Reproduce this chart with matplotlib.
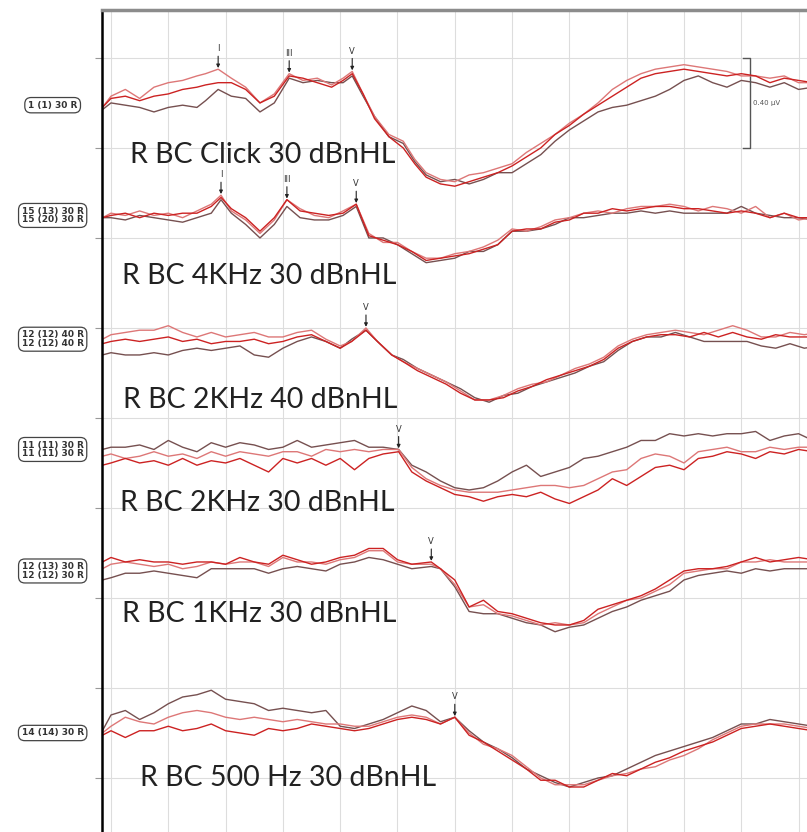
import matplotlib
matplotlib.use("Agg")
import matplotlib.pyplot as plt
import matplotlib.transforms as mtransforms
import numpy as np

# one run per stimulus, top to bottom
conditions = ["R BC Click 30 dBnHL", "R BC 4KHz 30 dBnHL", "R BC 2KHz 40 dBnHL",
              "R BC 2KHz 30 dBnHL", "R BC 1KHz 30 dBnHL", "R BC 500 Hz 30 dBnHL"]
channel_tags = ["1 (1) 30 R", "15 (13) 30 R\n15 (20) 30 R", "12 (12) 40 R\n12 (12) 40 R",
                "11 (11) 30 R\n11 (11) 30 R", "12 (13) 30 R\n12 (12) 30 R", "14 (14) 30 R"]
baseline_uv = [2.99, 2.50, 1.95, 1.46, 0.92, 0.20]
scale_uv = 0.40

# latency (ms) and amplitude (uV) of the three sweeps per run
t_click = [-0.15, 0, 0.25, 0.5, 0.75, 1.0, 1.25, 1.5, 1.65, 1.87, 2.1, 2.35, 2.6, 2.85, 3.11, 3.35,
           3.6, 3.85, 4.05, 4.21, 4.4, 4.6, 4.85, 5.1, 5.3, 5.5, 5.75, 6.0, 6.25, 6.5, 6.75, 7.0,
           7.25, 7.5, 7.75, 8.0, 8.25, 8.5, 8.75, 9.0, 9.25, 9.5, 9.75, 10.0, 10.25, 10.5, 10.75,
           11.0, 11.25, 11.5, 11.75, 12.0, 12.25]
click_a = [-0.01, 0.04, 0.07, 0.03, 0.08, 0.10, 0.11, 0.13, 0.14, 0.16, 0.12, 0.08, 0.01, 0.05,
           0.14, 0.11, 0.12, 0.09, 0.12, 0.15, 0.05, -0.05, -0.13, -0.16, -0.24, -0.30, -0.33,
           -0.34, -0.31, -0.30, -0.28, -0.26, -0.21, -0.17, -0.13, -0.08, -0.04, 0.01, 0.07, 0.11,
           0.14, 0.16, 0.17, 0.18, 0.17, 0.16, 0.15, 0.13, 0.13, 0.12, 0.13, 0.10, 0.10]
click_b = [-0.01, 0.03, 0.04, 0.02, 0.04, 0.05, 0.07, 0.08, 0.09, 0.10, 0.10, 0.07, 0.01, 0.04,
           0.13, 0.12, 0.10, 0.08, 0.11, 0.14, 0.05, -0.06, -0.14, -0.19, -0.26, -0.32, -0.35,
           -0.36, -0.34, -0.32, -0.30, -0.27, -0.23, -0.19, -0.13, -0.09, -0.04, 0.00, 0.04, 0.08,
           0.12, 0.14, 0.15, 0.16, 0.15, 0.14, 0.13, 0.14, 0.13, 0.10, 0.12, 0.11, 0.10]
click_c = [-0.02, 0.01, 0.00, -0.01, -0.03, -0.01, 0.00, -0.01, 0.02, 0.07, 0.04, 0.03, -0.03,
           0.01, 0.12, 0.10, 0.11, 0.10, 0.10, 0.13, 0.04, -0.05, -0.14, -0.17, -0.25, -0.31,
           -0.34, -0.33, -0.35, -0.33, -0.30, -0.30, -0.26, -0.22, -0.16, -0.11, -0.07, -0.03,
           -0.01, 0.00, 0.02, 0.04, 0.07, 0.11, 0.13, 0.10, 0.08, 0.11, 0.10, 0.08, 0.10, 0.07, 0.08]

t_4k = [-0.15, 0, 0.25, 0.5, 0.75, 1.0, 1.25, 1.5, 1.75, 1.92, 2.1, 2.35, 2.6, 2.85, 3.07, 3.3,
        3.55, 3.8, 4.05, 4.28, 4.5, 4.75, 5.0, 5.25, 5.5, 5.75, 6.0, 6.25, 6.5, 6.75, 7.0, 7.25,
        7.5, 7.75, 8.0, 8.25, 8.5, 8.75, 9.0, 9.25, 9.5, 9.75, 10.0, 10.25, 10.5, 10.75, 11.0,
        11.25, 11.5, 11.75, 12.0, 12.25]
k4_a = [-0.01, 0.01, 0.00, 0.02, 0.00, 0.01, -0.01, 0.02, 0.05, 0.09, 0.02, -0.02, -0.08, -0.02,
        0.07, 0.03, 0.00, -0.01, 0.02, 0.05, -0.08, -0.12, -0.12, -0.16, -0.19, -0.19, -0.17,
        -0.16, -0.14, -0.11, -0.06, -0.07, -0.05, -0.02, -0.01, 0.01, 0.02, 0.01, 0.03, 0.04,
        0.04, 0.05, 0.04, 0.02, 0.04, 0.03, 0.01, 0.04, -0.01, 0.01, -0.02, -0.01]
k4_b = [-0.01, 0.00, 0.01, -0.01, 0.01, 0.00, 0.01, 0.01, 0.04, 0.08, 0.03, -0.01, -0.07, -0.01,
        0.07, 0.02, 0.01, 0.00, 0.01, 0.05, -0.09, -0.11, -0.13, -0.16, -0.20, -0.19, -0.18,
        -0.17, -0.15, -0.13, -0.07, -0.06, -0.06, -0.03, -0.02, 0.01, 0.01, 0.03, 0.02, 0.03,
        0.04, 0.04, 0.03, 0.03, 0.02, 0.01, 0.02, 0.01, -0.01, 0.01, -0.01, -0.01]
k4_c = [-0.01, -0.01, -0.02, 0.00, -0.01, -0.02, -0.03, -0.01, 0.01, 0.07, 0.01, -0.04, -0.10,
        -0.04, 0.04, -0.01, -0.02, -0.02, 0.00, 0.04, -0.10, -0.10, -0.13, -0.17, -0.21, -0.20,
        -0.19, -0.16, -0.16, -0.13, -0.07, -0.07, -0.06, -0.04, -0.01, -0.01, 0.00, 0.01, 0.01,
        0.02, 0.01, 0.02, 0.01, 0.01, 0.01, 0.01, 0.04, 0.01, 0.00, -0.01, -0.01, -0.02]

t_2k40 = [-0.15, 0, 0.25, 0.5, 0.75, 1.0, 1.25, 1.5, 1.75, 2.0, 2.25, 2.5, 2.75, 3.0, 3.25, 3.5,
          3.75, 4.0, 4.2, 4.45, 4.65, 4.9, 5.1, 5.35, 5.6, 5.85, 6.1, 6.35, 6.6, 6.85, 7.1, 7.35,
          7.6, 7.85, 8.1, 8.35, 8.6, 8.85, 9.1, 9.35, 9.6, 9.85, 10.1, 10.35, 10.6, 10.85, 11.1,
          11.35, 11.6, 11.85, 12.1, 12.35]
k2h_a = [0.00, 0.02, 0.03, 0.04, 0.04, 0.06, 0.03, 0.01, 0.03, 0.01, 0.02, 0.03, 0.01, 0.01, 0.03,
         0.04, 0.00, -0.03, -0.01, 0.05, -0.01, -0.07, -0.10, -0.13, -0.16, -0.19, -0.23, -0.27,
         -0.27, -0.25, -0.22, -0.20, -0.19, -0.16, -0.13, -0.11, -0.08, -0.03, 0.00, 0.02, 0.03,
         0.04, 0.03, 0.02, 0.04, 0.06, 0.04, 0.01, 0.01, 0.03, 0.02, 0.03]
k2h_b = [-0.02, -0.01, 0.00, -0.01, 0.00, 0.01, -0.01, 0.00, -0.02, -0.01, -0.01, 0.00, -0.02,
         -0.01, 0.01, 0.02, -0.01, -0.04, -0.01, 0.04, -0.01, -0.07, -0.10, -0.14, -0.17, -0.20,
         -0.24, -0.27, -0.27, -0.26, -0.23, -0.21, -0.18, -0.16, -0.14, -0.12, -0.09, -0.04, -0.01,
         0.01, 0.02, 0.02, 0.01, 0.03, 0.01, 0.03, 0.01, 0.00, 0.02, 0.01, 0.01, 0.01]
k2h_c = [-0.07, -0.06, -0.07, -0.07, -0.06, -0.07, -0.05, -0.04, -0.05, -0.04, -0.03, -0.07,
         -0.08, -0.04, -0.01, 0.01, -0.01, -0.04, 0.00, 0.04, -0.01, -0.07, -0.09, -0.13, -0.16,
         -0.19, -0.22, -0.26, -0.28, -0.25, -0.24, -0.21, -0.19, -0.17, -0.15, -0.12, -0.10, -0.05,
         -0.01, 0.01, 0.01, 0.03, 0.01, -0.01, -0.01, -0.01, -0.01, -0.03, -0.04, -0.02, -0.04, -0.03]

t_2k30 = [-0.15, 0, 0.25, 0.5, 0.75, 1.0, 1.25, 1.5, 1.75, 2.0, 2.25, 2.5, 2.75, 3.0, 3.25, 3.5,
          3.75, 4.0, 4.25, 4.5, 4.75, 5.02, 5.25, 5.5, 5.75, 6.0, 6.25, 6.5, 6.75, 7.0, 7.25, 7.5,
          7.75, 8.0, 8.25, 8.5, 8.75, 9.0, 9.25, 9.5, 9.75, 10.0, 10.25, 10.5, 10.75, 11.0, 11.25,
          11.5, 11.75, 12.0, 12.25]
k2l_a = [0.00, 0.01, 0.01, 0.02, 0.00, 0.04, 0.01, -0.01, 0.03, 0.01, 0.03, 0.02, 0.00, 0.01, 0.04,
         0.01, 0.02, 0.03, 0.04, 0.01, 0.01, 0.00, -0.07, -0.10, -0.14, -0.17, -0.18, -0.17, -0.14,
         -0.10, -0.07, -0.12, -0.10, -0.08, -0.04, -0.03, -0.01, 0.01, 0.04, 0.04, 0.07, 0.06, 0.07,
         0.06, 0.07, 0.07, 0.08, 0.04, 0.06, 0.07, 0.04]
k2l_b = [-0.03, -0.02, -0.04, -0.03, -0.01, -0.03, -0.02, -0.04, -0.01, -0.03, -0.01, -0.02, -0.03,
         -0.01, -0.01, -0.03, 0.00, -0.01, 0.00, -0.01, 0.00, 0.00, -0.08, -0.13, -0.16, -0.18,
         -0.19, -0.19, -0.19, -0.18, -0.17, -0.16, -0.16, -0.17, -0.16, -0.13, -0.10, -0.09, -0.04,
         -0.02, -0.03, -0.06, -0.01, 0.00, 0.01, -0.01, -0.01, 0.01, 0.00, 0.01, 0.01]
k2l_c = [-0.07, -0.06, -0.04, -0.06, -0.05, -0.07, -0.04, -0.07, -0.05, -0.06, -0.04, -0.07, -0.10,
         -0.04, -0.06, -0.04, -0.07, -0.04, -0.09, -0.04, -0.02, -0.01, -0.10, -0.14, -0.17, -0.20,
         -0.21, -0.23, -0.21, -0.20, -0.21, -0.19, -0.22, -0.24, -0.21, -0.18, -0.13, -0.16, -0.12,
         -0.08, -0.07, -0.09, -0.04, -0.03, -0.01, -0.02, -0.04, -0.01, -0.02, 0.00, -0.01]

t_1k = [-0.15, 0, 0.25, 0.5, 0.75, 1.0, 1.25, 1.5, 1.75, 2.0, 2.25, 2.5, 2.75, 3.0, 3.25, 3.5,
        3.75, 4.0, 4.25, 4.5, 4.75, 5.0, 5.25, 5.59, 5.75, 6.0, 6.25, 6.5, 6.75, 7.0, 7.25, 7.5,
        7.75, 8.0, 8.25, 8.5, 8.75, 9.0, 9.25, 9.5, 9.75, 10.0, 10.25, 10.5, 10.75, 11.0, 11.25,
        11.5, 11.75, 12.0, 12.25]
k1_a = [0.04, 0.06, 0.04, 0.05, 0.04, 0.04, 0.03, 0.04, 0.04, 0.03, 0.06, 0.04, 0.03, 0.07, 0.05,
        0.03, 0.04, 0.06, 0.07, 0.10, 0.10, 0.05, 0.03, 0.04, 0.01, -0.04, -0.16, -0.13, -0.18,
        -0.19, -0.21, -0.23, -0.24, -0.24, -0.22, -0.17, -0.15, -0.13, -0.11, -0.08, -0.04, 0.00,
        0.01, 0.01, 0.02, 0.04, 0.06, 0.04, 0.05, 0.06, 0.05]
k1_b = [0.01, 0.03, 0.04, 0.03, 0.02, 0.03, 0.01, 0.02, 0.04, 0.03, 0.04, 0.04, 0.02, 0.06, 0.04,
        0.04, 0.03, 0.05, 0.06, 0.09, 0.09, 0.04, 0.03, 0.03, 0.01, -0.06, -0.16, -0.15, -0.19,
        -0.20, -0.22, -0.24, -0.23, -0.24, -0.23, -0.19, -0.16, -0.13, -0.12, -0.09, -0.06, -0.01,
        0.00, 0.01, 0.01, 0.04, 0.04, 0.05, 0.04, 0.04, 0.04]
k1_c = [-0.04, -0.03, -0.01, -0.01, 0.00, -0.01, -0.02, -0.03, 0.01, 0.01, 0.01, 0.01, -0.01, 0.01,
        0.02, 0.01, 0.00, 0.03, 0.04, 0.06, 0.05, 0.03, 0.01, 0.02, 0.01, -0.07, -0.18, -0.19,
        -0.19, -0.21, -0.23, -0.24, -0.27, -0.25, -0.24, -0.21, -0.18, -0.16, -0.13, -0.11, -0.09,
        -0.04, -0.02, -0.01, 0.00, -0.01, 0.01, 0.00, 0.01, 0.01, 0.01]

t_500 = [-0.15, 0, 0.25, 0.5, 0.75, 1.0, 1.25, 1.5, 1.75, 2.0, 2.25, 2.5, 2.75, 3.0, 3.25, 3.5,
         3.75, 4.0, 4.25, 4.5, 4.75, 5.0, 5.25, 5.5, 5.75, 6.0, 6.25, 6.5, 6.75, 7.0, 7.25, 7.5,
         7.75, 8.0, 8.25, 8.5, 8.75, 9.0, 9.25, 9.5, 9.75, 10.0, 10.25, 10.5, 10.75, 11.0, 11.25,
         11.5, 11.75, 12.0, 12.25]
h5_a = [0.01, 0.08, 0.10, 0.06, 0.09, 0.13, 0.16, 0.17, 0.19, 0.15, 0.14, 0.13, 0.10, 0.11, 0.10,
        0.09, 0.10, 0.03, 0.02, 0.04, 0.06, 0.09, 0.12, 0.10, 0.05, 0.07, 0.01, -0.04, -0.07,
        -0.11, -0.16, -0.19, -0.22, -0.24, -0.22, -0.20, -0.19, -0.16, -0.13, -0.10, -0.08, -0.06,
        -0.04, -0.02, 0.01, 0.04, 0.04, 0.06, 0.05, 0.04, 0.03]
h5_b = [0.00, 0.03, 0.07, 0.05, 0.04, 0.07, 0.09, 0.10, 0.09, 0.07, 0.06, 0.07, 0.06, 0.05, 0.06,
        0.05, 0.04, 0.04, 0.03, 0.03, 0.05, 0.07, 0.08, 0.07, 0.04, 0.07, 0.00, -0.05, -0.07,
        -0.10, -0.15, -0.20, -0.23, -0.23, -0.23, -0.21, -0.19, -0.18, -0.16, -0.15, -0.12, -0.10,
        -0.07, -0.03, 0.00, 0.03, 0.04, 0.04, 0.04, 0.03, 0.02]
h5_c = [-0.01, 0.01, -0.02, 0.01, 0.01, 0.03, 0.01, 0.02, 0.04, 0.01, 0.00, -0.01, 0.02, 0.01, 0.02,
        0.04, 0.03, 0.02, 0.01, 0.02, 0.04, 0.06, 0.07, 0.06, 0.04, 0.07, -0.01, -0.04, -0.08,
        -0.12, -0.16, -0.21, -0.21, -0.24, -0.24, -0.21, -0.18, -0.19, -0.16, -0.13, -0.11, -0.08,
        -0.06, -0.04, -0.01, 0.02, 0.03, 0.04, 0.03, 0.02, 0.01]

# marked waves (label, latency ms)
peaks = [[("I", 1.87), ("III", 3.11), ("V", 4.21)],
         [("I", 1.92), ("III", 3.07), ("V", 4.28)],
         [("V", 4.45)], [("V", 5.02)], [("V", 5.59)], [("V", 6.0)]]

times = [t_click, t_4k, t_2k40, t_2k30, t_1k, t_500]
sweeps = [(click_a, click_b, click_c), (k4_a, k4_b, k4_c), (k2h_a, k2h_b, k2h_c),
          (k2l_a, k2l_b, k2l_c), (k1_a, k1_b, k1_c), (h5_a, h5_b, h5_c)]

# light red, red, dark brown; which sweep gets which colour in each run
sweep_colors = ["#dd7777", "#cc2222", "#765050"]
color_order = [(0, 1, 2), (0, 1, 2), (0, 1, 2), (2, 0, 1), (1, 0, 2), (2, 0, 1)]
label_pos = [(0.33, -0.22), (0.19, -0.27), (0.21, -0.27), (0.16, -0.24), (0.19, -0.19), (0.51, -0.20)]

fig = plt.figure(figsize=(8.07, 8.32), dpi=100)
ax = fig.add_axes([102 / 807, 0, 705 / 807, 822 / 832])
ax.set_xlim(-0.157, 12.147)
ax.set_ylim(-0.24, 3.413)
ax.set_xticks(np.arange(0, 13))
ax.set_yticks(np.arange(0, 3.3, 0.4))
ax.grid(color="#dddddd", lw=0.8)
ax.set_axisbelow(True)
ax.tick_params(axis="x", length=0, labelbottom=False)
ax.tick_params(axis="y", length=5, color="#999999", labelleft=False)
ax.spines["right"].set_visible(False)
ax.spines["bottom"].set_visible(False)
ax.spines["top"].set_color("#8c8c8c")
ax.spines["top"].set_linewidth(2.5)
ax.spines["left"].set_color("black")
ax.spines["left"].set_linewidth(1.8)

tag_tf = mtransforms.blended_transform_factory(ax.transAxes, ax.transData)

for i, t in enumerate(times):
    base = baseline_uv[i]
    a, b, c = sweeps[i]
    for vals, ci in zip((a, b, c), color_order[i]):
        z = {2: 2.0, 0: 2.1, 1: 2.2}[ci]
        ax.plot(t, base + np.array(vals), color=sweep_colors[ci], lw=1.0, zorder=z)

    for lab, lat in peaks[i]:
        j = t.index(lat)
        y = base + max(a[j], b[j], c[j])
        ax.annotate(lab, xy=(lat, y + 0.005), xytext=(lat, y + 0.07), ha="center", va="bottom",
                    fontsize=6, color="#333333", zorder=5,
                    arrowprops=dict(arrowstyle="-|>", color="#222222", lw=0.8,
                                    mutation_scale=5, shrinkA=0, shrinkB=0))

    lx, dy = label_pos[i]
    ax.text(lx, base + dy, conditions[i], fontsize=20.5, family="Lato", color="#222222",
            va="center", ha="left", zorder=6)

    ax.text(-0.07, base, channel_tags[i], transform=tag_tf, fontsize=6.5, fontweight="bold",
            ha="center", va="center", linespacing=0.95, color="#333333", clip_on=False,
            bbox=dict(boxstyle="round,pad=0.35,rounding_size=0.7", fc="white", ec="#444444", lw=0.9))

# calibration bar
ax.plot([11.03, 11.15, 11.15, 11.03], [3.2, 3.2, 3.2 - scale_uv, 3.2 - scale_uv],
        color="#555555", lw=1)
ax.text(11.2, 3.2 - scale_uv / 2, f"{scale_uv:.2f} µV", fontsize=5, color="#555555", va="center")

fig.savefig("out.png", dpi=100)
